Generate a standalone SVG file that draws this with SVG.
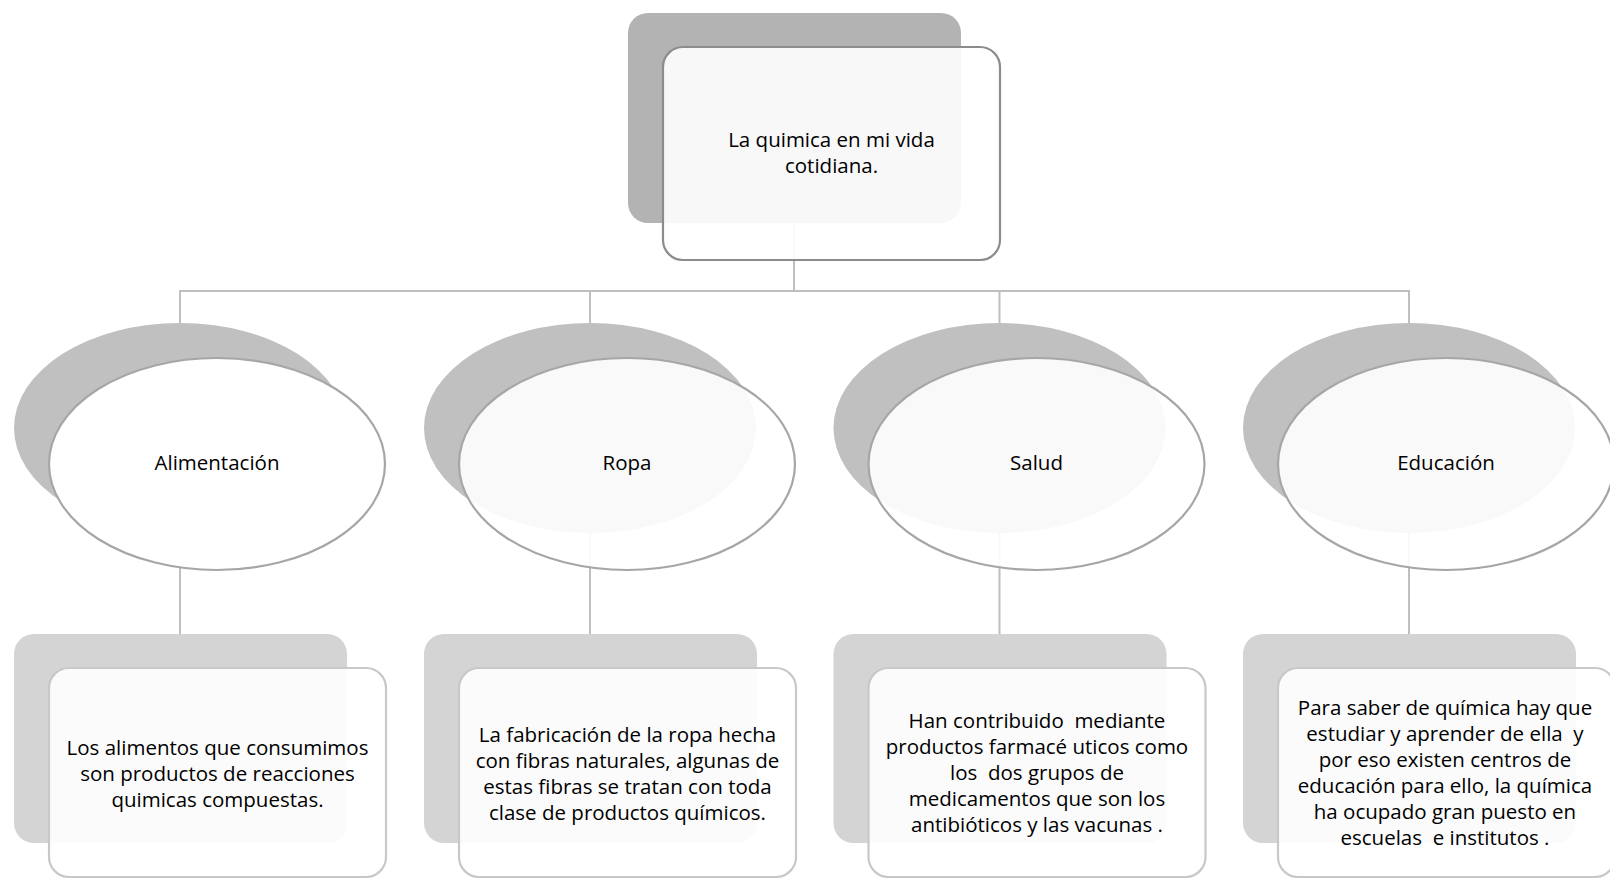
<svg xmlns="http://www.w3.org/2000/svg" width="1610" height="878" viewBox="0 0 1610 878">
<style>
.bg{fill:#ffffff}
.conn{fill:none;stroke:#bfbfbf;stroke-width:2}
.backTop{fill:#b3b3b3}
.backEll{fill:#c0c0c0}
.backBot{fill:#d4d4d4}
.frontTop{fill:#ffffff;fill-opacity:0.9;stroke:#8c8c8c;stroke-width:2.2}
.frontEll{fill:#ffffff;fill-opacity:0.9;stroke:#a6a6a6;stroke-width:2.2}
.frontBot{fill:#ffffff;fill-opacity:0.9;stroke:#c8c8c8;stroke-width:2.2}
.opaque{fill-opacity:1}
text{font-family:"Open Sans","Noto Sans","Liberation Sans",sans-serif;font-size:20.5px;fill:#000000;text-anchor:middle}
</style>
<rect class="bg" x="0" y="0" width="1610" height="878"/>
<g id="connectors">
<line class="conn" x1="794" y1="223" x2="794" y2="291"/>
<polyline class="conn" points="180,323 180,291 1409,291 1409,323"/>
<line class="conn" x1="590" y1="291" x2="590" y2="323"/>
<line class="conn" x1="999.5" y1="291" x2="999.5" y2="323"/>
<line class="conn" x1="180" y1="533" x2="180" y2="634"/>
<line class="conn" x1="590" y1="533" x2="590" y2="634"/>
<line class="conn" x1="999.5" y1="533" x2="999.5" y2="634"/>
<line class="conn" x1="1409" y1="533" x2="1409" y2="634"/>
</g>
<g id="root">
<rect class="backTop" x="628" y="13" width="333" height="210" rx="20"/>
<rect class="frontTop" x="663" y="47" width="337" height="213" rx="20"/>
<text x="831.5" y="147">La quimica en mi vida</text>
<text x="831.5" y="173">cotidiana.</text>
</g>
<g id="alimentacion">
<ellipse class="backEll" cx="180" cy="428" rx="166" ry="105"/>
<ellipse class="frontEll opaque" cx="217" cy="464" rx="168" ry="106"/>
<text x="217" y="470">Alimentación</text>
</g>
<g id="ropa">
<ellipse class="backEll" cx="590" cy="428" rx="166" ry="105"/>
<ellipse class="frontEll" cx="627" cy="464" rx="168" ry="106"/>
<text x="627" y="470">Ropa</text>
</g>
<g id="salud">
<ellipse class="backEll" cx="999.5" cy="428" rx="166" ry="105"/>
<ellipse class="frontEll" cx="1036.5" cy="464" rx="168" ry="106"/>
<text x="1036.5" y="470">Salud</text>
</g>
<g id="educacion">
<ellipse class="backEll" cx="1409" cy="428" rx="166" ry="105"/>
<ellipse class="frontEll" cx="1446" cy="464" rx="168" ry="106"/>
<text x="1446" y="470">Educación</text>
</g>
<g id="alimentacion-detalle">
<rect class="backBot" x="14" y="634" width="333" height="209" rx="20"/>
<rect class="frontBot" x="49" y="668" width="337" height="209" rx="20"/>
<text x="217.5" y="754.5">Los alimentos que consumimos</text>
<text x="217.5" y="780.5">son productos de reacciones</text>
<text x="217.5" y="806.5">quimicas compuestas.</text>
</g>
<g id="ropa-detalle">
<rect class="backBot" x="424" y="634" width="333" height="209" rx="20"/>
<rect class="frontBot" x="459" y="668" width="337" height="209" rx="20"/>
<text x="627.5" y="741.5">La fabricación de la ropa hecha</text>
<text x="627.5" y="767.5">con fibras naturales, algunas de</text>
<text x="627.5" y="793.5">estas fibras se tratan con toda</text>
<text x="627.5" y="819.5">clase de productos químicos.</text>
</g>
<g id="salud-detalle">
<rect class="backBot" x="833.5" y="634" width="333" height="209" rx="20"/>
<rect class="frontBot" x="868.5" y="668" width="337" height="209" rx="20"/>
<text x="1037" y="728" xml:space="preserve">Han contribuido  mediante</text>
<text x="1037" y="754">productos farmacé uticos como</text>
<text x="1037" y="780" xml:space="preserve">los  dos grupos de</text>
<text x="1037" y="806">medicamentos que son los</text>
<text x="1037" y="832">antibióticos y las vacunas .</text>
</g>
<g id="educacion-detalle">
<rect class="backBot" x="1243" y="634" width="333" height="209" rx="20"/>
<rect class="frontBot" x="1278" y="668" width="337" height="209" rx="20"/>
<text x="1445" y="715">Para saber de química hay que</text>
<text x="1445" y="741" xml:space="preserve">estudiar y aprender de ella  y</text>
<text x="1445" y="767">por eso existen centros de</text>
<text x="1445" y="793">educación para ello, la química</text>
<text x="1445" y="819">ha ocupado gran puesto en</text>
<text x="1445" y="845" xml:space="preserve">escuelas  e institutos .</text>
</g>
</svg>
